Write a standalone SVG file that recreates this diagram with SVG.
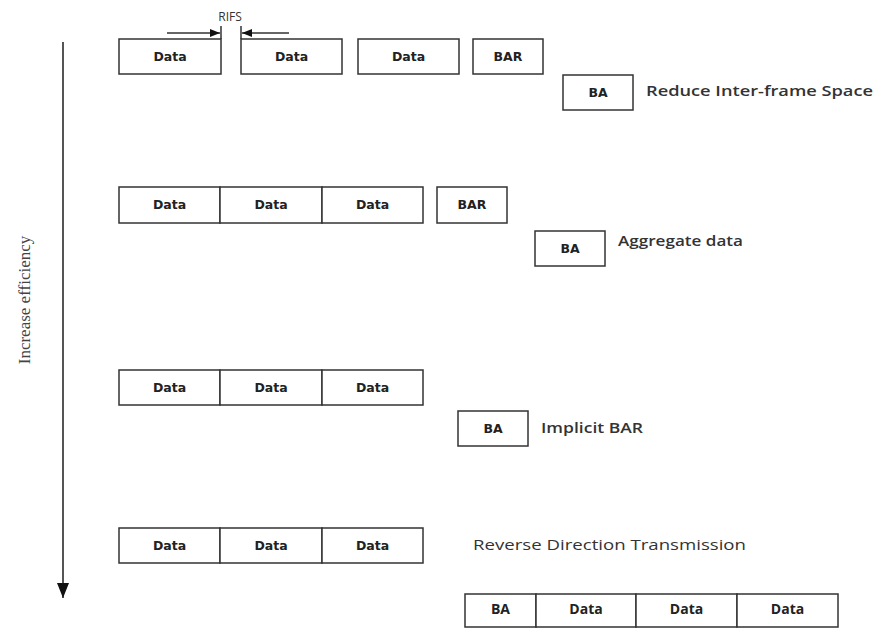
<svg xmlns="http://www.w3.org/2000/svg" width="879" height="628" viewBox="0 0 879 628">
<defs>
<style>
.box{fill:#fff;stroke:#333;stroke-width:1.5}
.bt{font-family:"DejaVu Sans",Verdana,sans-serif;font-weight:bold;font-size:12.5px;fill:#222;text-anchor:middle}
.bt2{font-family:"Open Sans","Noto Sans",sans-serif;font-weight:bold;font-size:14px;fill:#222;text-anchor:middle}
.lbl{font-family:"Open Sans","Noto Sans",sans-serif;font-weight:600;font-size:15px;fill:#333}
.lbl2{font-family:"Open Sans","Noto Sans",sans-serif;font-weight:normal;font-size:15px;fill:#333}
.ln{stroke:#333;stroke-width:1.5;fill:none}
</style>
<marker id="ah" viewBox="0 0 10 10" refX="10" refY="5" markerWidth="10" markerHeight="10" markerUnits="userSpaceOnUse" orient="auto">
<path d="M0,1 L10,5 L0,9 Z" fill="#111"/>
</marker>
<marker id="ahBig" viewBox="0 0 15 12" refX="15" refY="6" markerWidth="15" markerHeight="12" markerUnits="userSpaceOnUse" orient="auto">
<path d="M0,0 L15,6 L0,12 Z" fill="#111"/>
</marker>
</defs>
<rect width="879" height="628" fill="#fff"/>

<g id="connectors">
<line class="ln" x1="221" y1="26" x2="221" y2="39"/>
<line class="ln" x1="241" y1="26" x2="241" y2="39"/>
<line class="ln" x1="167" y1="33" x2="220" y2="33" marker-end="url(#ah)"/>
<line class="ln" x1="289" y1="33" x2="242" y2="33" marker-end="url(#ah)"/>
<line x1="63" y1="42" x2="63" y2="598" stroke="#555" stroke-width="2" marker-end="url(#ahBig)"/>
</g>

<g id="axis-label">
<text x="0" y="0" transform="translate(30,300) rotate(-90)" font-family="'Liberation Serif','Times New Roman',serif" font-size="17px" fill="#444" text-anchor="middle">Increase efficiency</text>
<text x="230" y="21" font-family="'Open Sans','Noto Sans',sans-serif" font-size="12px" fill="#333" text-anchor="middle">RIFS</text>
</g>

<g id="row1">
<g id="r1-data1"><rect class="box" x="119" y="39" width="102" height="35"/><text class="bt" x="170" y="61">Data</text></g>
<g id="r1-data2"><rect class="box" x="241" y="39" width="101" height="35"/><text class="bt" x="291.5" y="61">Data</text></g>
<g id="r1-data3"><rect class="box" x="358" y="39" width="101" height="35"/><text class="bt" x="408.5" y="61">Data</text></g>
<g id="r1-bar"><rect class="box" x="473" y="39" width="70" height="35"/><text class="bt" x="508" y="61">BAR</text></g>
<g id="r1-ba"><rect class="box" x="563" y="75" width="70" height="35"/><text class="bt" x="598" y="97">BA</text></g>
<text class="lbl" x="646" y="96" textLength="227" lengthAdjust="spacingAndGlyphs">Reduce Inter-frame Space</text>
</g>

<g id="row2">
<g id="r2-data1"><rect class="box" x="119" y="187" width="101" height="36"/><text class="bt" x="169.5" y="209">Data</text></g>
<g id="r2-data2"><rect class="box" x="220" y="187" width="102" height="36"/><text class="bt" x="271" y="209">Data</text></g>
<g id="r2-data3"><rect class="box" x="322" y="187" width="101" height="36"/><text class="bt" x="372.5" y="209">Data</text></g>
<g id="r2-bar"><rect class="box" x="437" y="187" width="70" height="36"/><text class="bt" x="472" y="209">BAR</text></g>
<g id="r2-ba"><rect class="box" x="535" y="231" width="70" height="35"/><text class="bt" x="570" y="253">BA</text></g>
<text class="lbl" x="618" y="246" textLength="125" lengthAdjust="spacingAndGlyphs">Aggregate data</text>
</g>

<g id="row3">
<g id="r3-data1"><rect class="box" x="119" y="370" width="101" height="35"/><text class="bt" x="169.5" y="392">Data</text></g>
<g id="r3-data2"><rect class="box" x="220" y="370" width="102" height="35"/><text class="bt" x="271" y="392">Data</text></g>
<g id="r3-data3"><rect class="box" x="322" y="370" width="101" height="35"/><text class="bt" x="372.5" y="392">Data</text></g>
<g id="r3-ba"><rect class="box" x="458" y="411" width="70" height="35"/><text class="bt" x="493" y="433">BA</text></g>
<text class="lbl" x="541" y="433" textLength="102" lengthAdjust="spacingAndGlyphs">Implicit BAR</text>
</g>

<g id="row4">
<g id="r4-data1"><rect class="box" x="119" y="528" width="101" height="35"/><text class="bt" x="169.5" y="550">Data</text></g>
<g id="r4-data2"><rect class="box" x="220" y="528" width="102" height="35"/><text class="bt" x="271" y="550">Data</text></g>
<g id="r4-data3"><rect class="box" x="322" y="528" width="101" height="35"/><text class="bt" x="372.5" y="550">Data</text></g>
<text class="lbl2" x="473" y="550" textLength="273" lengthAdjust="spacingAndGlyphs">Reverse Direction Transmission</text>
<g id="r4-ba"><rect class="box" x="465" y="594" width="71" height="33"/><text class="bt2" x="500.5" y="614">BA</text></g>
<g id="r4-data4"><rect class="box" x="536" y="594" width="100" height="33"/><text class="bt2" x="586" y="614">Data</text></g>
<g id="r4-data5"><rect class="box" x="636" y="594" width="101" height="33"/><text class="bt2" x="686.5" y="614">Data</text></g>
<g id="r4-data6"><rect class="box" x="737" y="594" width="101" height="33"/><text class="bt2" x="787.5" y="614">Data</text></g>
</g>
</svg>
